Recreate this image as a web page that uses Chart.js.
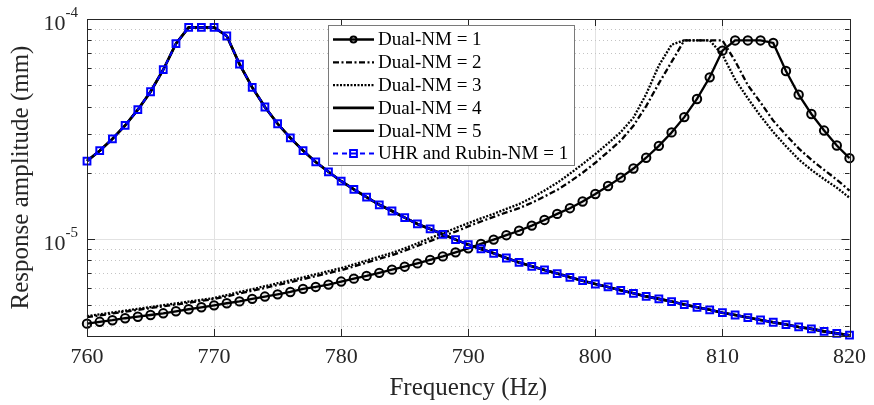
<!DOCTYPE html>
<html>
<head>
<meta charset="utf-8">
<script src="https://cdn.jsdelivr.net/npm/chart.js@4.4.1/dist/chart.umd.min.js"></script>
<style>
  html, body { margin: 0; padding: 0; background: #fff; }
</style>
</head>
<body>
<canvas id="chart" width="874" height="405"></canvas>
<script>
const freqs = [760, 761, 762, 763, 764, 765, 766, 767, 768, 769,
  770, 771, 772, 773, 774, 775, 776, 777, 778, 779,
  780, 781, 782, 783, 784, 785, 786, 787, 788, 789,
  790, 791, 792, 793, 794, 795, 796, 797, 798, 799,
  800, 801, 802, 803, 804, 805, 806, 807, 808, 809,
  810, 811, 812, 813, 814, 815, 816, 817, 818, 819, 820];

const dual1 = [4.12e-6, 4.20e-6, 4.27e-6, 4.36e-6, 4.43e-6, 4.51e-6, 4.59e-6, 4.69e-6, 4.79e-6, 4.89e-6,
  4.99e-6, 5.10e-6, 5.20e-6, 5.34e-6, 5.47e-6, 5.60e-6, 5.74e-6, 5.93e-6, 6.05e-6, 6.20e-6,
  6.40e-6, 6.60e-6, 6.79e-6, 7.01e-6, 7.25e-6, 7.48e-6, 7.74e-6, 8.03e-6, 8.33e-6, 8.69e-6,
  9.06e-6, 9.49e-6, 9.93e-6, 1.04e-5, 1.09e-5, 1.15e-5, 1.22e-5, 1.30e-5, 1.38e-5, 1.48e-5,
  1.60e-5, 1.74e-5, 1.90e-5, 2.09e-5, 2.34e-5, 2.65e-5, 3.05e-5, 3.58e-5, 4.33e-5, 5.43e-5,
  7.18e-5, 7.99e-5, 7.99e-5, 7.99e-5, 7.78e-5, 5.80e-5, 4.53e-5, 3.70e-5, 3.11e-5, 2.66e-5, 2.33e-5];

const dual2 = [4.41e-6, 4.49e-6, 4.58e-6, 4.67e-6, 4.76e-6, 4.85e-6, 4.94e-6, 5.03e-6, 5.13e-6, 5.23e-6,
  5.33e-6, 5.48e-6, 5.65e-6, 5.82e-6, 5.99e-6, 6.18e-6, 6.36e-6, 6.56e-6, 6.77e-6, 6.99e-6,
  7.21e-6, 7.50e-6, 7.80e-6, 8.12e-6, 8.44e-6, 8.84e-6, 9.30e-6, 9.78e-6, 1.03e-5, 1.08e-5,
  1.14e-5, 1.20e-5, 1.26e-5, 1.32e-5, 1.38e-5, 1.46e-5, 1.56e-5, 1.67e-5, 1.82e-5, 2.00e-5,
  2.22e-5, 2.49e-5, 2.80e-5, 3.27e-5, 4.02e-5, 5.10e-5, 6.38e-5, 8.00e-5, 8.00e-5, 8.00e-5,
  8.00e-5, 6.44e-5, 5.00e-5, 4.17e-5, 3.45e-5, 2.97e-5, 2.58e-5, 2.29e-5, 2.06e-5, 1.86e-5, 1.66e-5];

const dual3 = [4.46e-6, 4.54e-6, 4.63e-6, 4.72e-6, 4.81e-6, 4.90e-6, 5.00e-6, 5.09e-6, 5.19e-6, 5.29e-6,
  5.39e-6, 5.56e-6, 5.74e-6, 5.91e-6, 6.10e-6, 6.29e-6, 6.48e-6, 6.69e-6, 6.91e-6, 7.14e-6,
  7.37e-6, 7.66e-6, 7.98e-6, 8.31e-6, 8.64e-6, 9.06e-6, 9.55e-6, 1.01e-5, 1.06e-5, 1.12e-5,
  1.18e-5, 1.24e-5, 1.30e-5, 1.37e-5, 1.44e-5, 1.54e-5, 1.66e-5, 1.80e-5, 1.98e-5, 2.19e-5,
  2.43e-5, 2.72e-5, 3.06e-5, 3.56e-5, 4.55e-5, 6.15e-5, 7.64e-5, 8.00e-5, 8.00e-5, 8.00e-5,
  6.88e-5, 5.31e-5, 4.36e-5, 3.62e-5, 3.06e-5, 2.64e-5, 2.30e-5, 2.06e-5, 1.87e-5, 1.71e-5, 1.54e-5];

// UHR curve; Dual-NM = 4 and 5 lie on top of it
const uhr = [2.26e-5, 2.52e-5, 2.85e-5, 3.28e-5, 3.87e-5, 4.67e-5, 5.88e-5, 7.72e-5, 9.16e-5, 9.16e-5,
  9.16e-5, 8.37e-5, 6.24e-5, 4.89e-5, 3.98e-5, 3.34e-5, 2.88e-5, 2.52e-5, 2.24e-5, 2.02e-5,
  1.83e-5, 1.68e-5, 1.55e-5, 1.43e-5, 1.34e-5, 1.25e-5, 1.17e-5, 1.11e-5, 1.05e-5, 9.93e-6,
  9.42e-6, 9.01e-6, 8.60e-6, 8.19e-6, 7.82e-6, 7.51e-6, 7.23e-6, 6.96e-6, 6.69e-6, 6.46e-6,
  6.24e-6, 6.05e-6, 5.84e-6, 5.66e-6, 5.48e-6, 5.34e-6, 5.19e-6, 5.03e-6, 4.89e-6, 4.76e-6,
  4.62e-6, 4.51e-6, 4.39e-6, 4.28e-6, 4.18e-6, 4.08e-6, 3.98e-6, 3.90e-6, 3.80e-6, 3.72e-6, 3.65e-6];
const dual4 = uhr;
const dual5 = uhr;

const xTicks = [760, 770, 780, 790, 800, 810, 820];
const yMajor = [1e-5, 1e-4];
const yMinor = [4e-6, 5e-6, 6e-6, 7e-6, 8e-6, 9e-6, 2e-5, 3e-5, 4e-5, 5e-5, 6e-5, 7e-5, 8e-5, 9e-5];
const yExp = ['-5', '-4'];

const FONT = "'Liberation Serif', 'Times New Roman', serif";
const INK = '#262626';

function pts(arr) {
  return freqs.map((f, i) => ({ x: f, y: arr[i] }));
}

function line(ctx, x1, y1, x2, y2) {
  ctx.beginPath();
  ctx.moveTo(x1, y1);
  ctx.lineTo(x2, y2);
  ctx.stroke();
}

// grid, box, inward ticks and the 10^n labels
const frame = {
  id: 'frame',
  beforeDatasetsDraw(chart) {
    const { ctx, chartArea: a, scales: { x, y } } = chart;
    ctx.save();
    ctx.lineWidth = 1;
    ctx.strokeStyle = '#e2e2e2';
    xTicks.slice(1, -1).forEach(v => {
      const px = Math.round(x.getPixelForValue(v)) + 0.5;
      line(ctx, px, a.top, px, a.bottom);
    });
    yMajor.forEach(v => {
      const py = Math.round(y.getPixelForValue(v)) + 0.5;
      if (py > a.top + 1) line(ctx, a.left, py, a.right, py);
    });
    ctx.strokeStyle = '#c4c4c4';
    ctx.setLineDash([1, 3]);
    yMinor.forEach(v => {
      const py = Math.round(y.getPixelForValue(v)) + 0.5;
      line(ctx, a.left, py, a.right, py);
    });
    ctx.restore();
  },
  afterDatasetsDraw(chart) {
    const { ctx, chartArea: a, scales: { x, y } } = chart;
    ctx.save();
    ctx.strokeStyle = INK;
    ctx.lineWidth = 1;
    ctx.strokeRect(Math.round(a.left) + 0.5, Math.round(a.top) + 0.5,
      Math.round(a.right - a.left), Math.round(a.bottom - a.top));
    xTicks.forEach(v => {
      const px = Math.round(x.getPixelForValue(v)) + 0.5;
      line(ctx, px, a.bottom, px, a.bottom - 7);
      line(ctx, px, a.top, px, a.top + 7);
    });
    yMajor.forEach(v => {
      const py = Math.round(y.getPixelForValue(v)) + 0.5;
      line(ctx, a.left, py, a.left + 8, py);
      line(ctx, a.right, py, a.right - 8, py);
    });
    yMinor.forEach(v => {
      const py = Math.round(y.getPixelForValue(v)) + 0.5;
      line(ctx, a.left, py, a.left + 4.5, py);
      line(ctx, a.right, py, a.right - 4.5, py);
    });
    ctx.fillStyle = INK;
    ctx.textAlign = 'right';
    ctx.textBaseline = 'middle';
    yMajor.forEach((v, i) => {
      const py = y.getPixelForValue(v);
      ctx.font = '15px ' + FONT;
      const w = ctx.measureText(yExp[i]).width;
      ctx.fillText(yExp[i], a.left - 9, py - 5.5);
      ctx.font = '22px ' + FONT;
      ctx.fillText('10', a.left - 9 - w, py + 5.5);
    });
    ctx.restore();
  }
};

const legendBox = {
  id: 'legendBox',
  afterDraw(chart) {
    const { ctx } = chart;
    const bx = 328.5, by = 25.5, bw = 246, bh = 140;
    ctx.save();
    ctx.fillStyle = '#fff';
    ctx.fillRect(bx, by, bw, bh);
    ctx.strokeStyle = '#7a7a7a';
    ctx.lineWidth = 1;
    ctx.strokeRect(bx, by, bw, bh);
    chart.data.datasets.forEach((ds, i) => {
      const ry = 39.5 + i * 22.8;
      ctx.strokeStyle = ds.borderColor;
      ctx.lineWidth = ds.borderWidth;
      ctx.setLineDash(ds.borderDash || []);
      line(ctx, 333, ry, 374, ry);
      ctx.setLineDash([]);
      if (ds.pointRadius > 0) {
        ctx.lineWidth = ds.pointBorderWidth;
        ctx.strokeStyle = ds.pointBorderColor;
        ctx.beginPath();
        if (ds.pointStyle === 'rect') {
          const s = ds.pointRadius / Math.SQRT2;
          ctx.rect(353.5 - s, ry - s, 2 * s, 2 * s);
        } else {
          ctx.arc(353.5, ry, 3, 0, Math.PI * 2);
        }
        ctx.stroke();
      }
      ctx.fillStyle = '#000';
      ctx.font = '19px ' + FONT;
      ctx.textAlign = 'left';
      ctx.textBaseline = 'middle';
      ctx.fillText(ds.label, 378, ry + 1);
    });
    ctx.restore();
  }
};

const base = { fill: false, tension: 0, clip: false, borderWidth: 2.3, pointRadius: 0, order: 1 };

new Chart(document.getElementById('chart'), {
  type: 'line',
  data: {
    datasets: [
      { ...base, label: 'Dual-NM = 1', data: pts(dual1), borderColor: '#000',
        pointRadius: 4.2, pointStyle: 'circle', pointBorderColor: '#000', pointBorderWidth: 2,
        pointBackgroundColor: 'rgba(0,0,0,0.08)' },
      { ...base, label: 'Dual-NM = 2', data: pts(dual2), borderColor: '#000', borderDash: [6, 2.5, 2, 2.5] },
      { ...base, label: 'Dual-NM = 3', data: pts(dual3), borderColor: '#000', borderDash: [2, 1.5] },
      { ...base, label: 'Dual-NM = 4', data: pts(dual4), borderColor: '#000', borderWidth: 2.6 },
      { ...base, label: 'Dual-NM = 5', data: pts(dual5), borderColor: '#000', borderWidth: 2.6 },
      { ...base, label: 'UHR and Rubin-NM = 1', data: pts(uhr), borderColor: '#0000ff', borderDash: [5, 4],
        borderWidth: 2, pointRadius: 4.8, pointStyle: 'rect', pointBorderColor: '#0000ff', pointBorderWidth: 2,
        pointBackgroundColor: 'rgba(0,0,0,0)', order: 0 }
    ]
  },
  options: {
    responsive: false,
    animation: false,
    devicePixelRatio: 1,
    layout: { padding: { top: 19, right: 20, left: 0, bottom: 0 } },
    plugins: { legend: { display: false }, tooltip: { enabled: false } },
    scales: {
      x: {
        type: 'linear', min: 760, max: 820,
        afterBuildTicks: s => { s.ticks = xTicks.map(v => ({ value: v })); },
        afterFit: s => { s.height = 69; },
        grid: { display: false, drawTicks: false },
        border: { display: false },
        ticks: { font: { family: FONT, size: 22 }, color: INK, padding: 8, maxRotation: 0 },
        title: { display: true, text: 'Frequency (Hz)', color: INK,
          font: { family: FONT, size: 25 }, padding: { top: 0, bottom: 2 } }
      },
      y: {
        type: 'logarithmic', min: 3.62e-6, max: 1e-4,
        afterFit: s => { s.width = 87; },
        grid: { display: false, drawTicks: false },
        border: { display: false },
        ticks: { display: false },
        title: { display: true, text: 'Response amplitude (mm)', color: INK,
          font: { family: FONT, size: 25 }, padding: { top: 6, bottom: 0 } }
      }
    }
  },
  plugins: [frame, legendBox]
});
</script>
</body>
</html>
